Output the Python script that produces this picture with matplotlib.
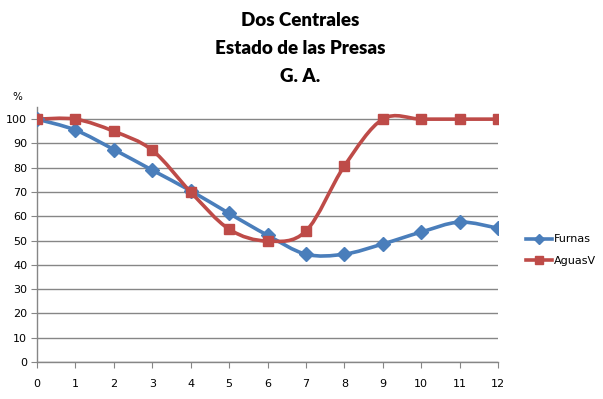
import matplotlib.pyplot as plt
from matplotlib.path import Path
from matplotlib.patches import PathPatch
from matplotlib.lines import Line2D

# datos
meses = list(range(13))
furnas = [100, 95.5, 87.5, 79, 70.5, 61.2, 52.2, 44.4, 44.4, 48.6, 53.5, 57.6, 55.1]
aguasv = [100, 100, 95, 87.2, 70, 54.7, 49.8, 53.9, 80.7, 100, 100, 100, 100]

azul = '#4A7EBB'
rojo = '#BE4B48'
gris = '#868686'


def curva_suave(ax, xs, ys, color):
    # curva tipo Excel (bezier, catmull-rom)
    n = len(xs)
    verts = [(xs[0], ys[0])]
    codes = [Path.MOVETO]
    for i in range(n - 1):
        x0, y0 = xs[max(i - 1, 0)], ys[max(i - 1, 0)]
        x1, y1 = xs[i], ys[i]
        x2, y2 = xs[i + 1], ys[i + 1]
        x3, y3 = xs[min(i + 2, n - 1)], ys[min(i + 2, n - 1)]
        verts += [(x1 + (x2 - x0) / 6, y1 + (y2 - y0) / 6),
                  (x2 - (x3 - x1) / 6, y2 - (y3 - y1) / 6),
                  (x2, y2)]
        codes += [Path.CURVE4] * 3
    ax.add_patch(PathPatch(Path(verts, codes), facecolor='none',
                           edgecolor=color, lw=2.6, zorder=3, capstyle='round'))


fig = plt.figure(figsize=(6.03, 3.99), dpi=100)
ax = fig.add_axes([37 / 603, 1 - 362 / 399, 461 / 603, 255 / 399])

curva_suave(ax, meses, furnas, azul)
curva_suave(ax, meses, aguasv, rojo)
ax.plot(meses, furnas, ls='none', marker='D', ms=7, color=azul, zorder=4)
ax.plot(meses, aguasv, ls='none', marker='s', ms=7.5, color=rojo, zorder=5)

ax.set_xlim(0, 12)
ax.set_ylim(0, 105)
ax.set_xticks(meses)
ax.set_yticks(range(0, 101, 10))
ax.yaxis.grid(True, color=gris, lw=1)
ax.set_axisbelow(True)
for s in ['top', 'right']:
    ax.spines[s].set_visible(False)
for s in ['left', 'bottom']:
    ax.spines[s].set_color(gris)
    ax.spines[s].set_linewidth(1)
ax.tick_params(axis='both', colors=gris, labelcolor='black', labelsize=8, length=4)
ax.tick_params(axis='x', pad=8)
ax.tick_params(axis='y', pad=3)
for lab in ax.get_xticklabels() + ax.get_yticklabels():
    lab.set_family('DejaVu Sans')

fig.text(17 / 603, 1 - 97 / 399, '%', fontsize=7.5, ha='center', va='center')

titulo = ['Dos Centrales', 'Estado de las Presas', 'G. A.']
for k, t in enumerate(titulo):
    fig.text(300 / 603, 1 - (20 + 28.5 * k) / 399, t, fontsize=13.5, fontweight='heavy',
             family='Lato', ha='center', va='center')

handles = [Line2D([], [], color=azul, lw=2.6, marker='D', ms=5),
           Line2D([], [], color=rojo, lw=2.6, marker='s', ms=6)]
fig.legend(handles, ['Furnas', 'AguasV'], loc='center left',
           bbox_to_anchor=(522 / 603, 1 - 250 / 399), frameon=False,
           borderaxespad=0, fontsize=8, handlelength=2.3, handletextpad=0.2,
           labelspacing=1.0)

fig.savefig('out.png', dpi=100)
